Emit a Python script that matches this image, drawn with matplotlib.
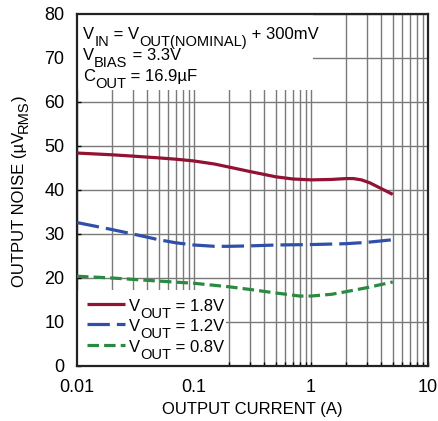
import matplotlib
matplotlib.use("Agg")
import matplotlib.pyplot as plt
from matplotlib.patches import Rectangle
from matplotlib.lines import Line2D
from matplotlib.transforms import IdentityTransform

FAM = 'Liberation Sans'
plt.rcParams['font.family'] = [FAM, 'DejaVu Sans']

# Data
x18 = [0.01, 0.02, 0.03, 0.05, 0.07, 0.1, 0.15, 0.2, 0.3, 0.5, 0.7, 1.0, 1.5, 2.0, 2.3, 2.7, 3.2, 4.0, 5.0]
y18 = [48.4, 48.0, 47.7, 47.3, 47.0, 46.6, 45.9, 45.2, 44.2, 43.0, 42.5, 42.3, 42.4, 42.6, 42.6, 42.3, 41.6, 40.3, 39.0]

x12 = [0.01, 0.02, 0.03, 0.05, 0.07, 0.1, 0.15, 0.2, 0.3, 0.5, 1.0, 2.0, 3.0, 5.0]
y12 = [32.6, 31.0, 30.0, 28.7, 28.0, 27.5, 27.2, 27.2, 27.3, 27.5, 27.6, 27.8, 28.1, 28.7]

x08 = [0.01, 0.02, 0.05, 0.1, 0.2, 0.3, 0.5, 0.8, 1.0, 1.5, 2.0, 3.0, 5.0]
y08 = [20.4, 20.0, 19.3, 18.8, 18.0, 17.4, 16.6, 15.9, 15.9, 16.3, 16.9, 17.8, 19.1]

legend_values = ["1.8V", "1.2V", "0.8V"]
xticks = [0.01, 0.1, 1, 10]
xticklabels = ["0.01", "0.1", "1", "10"]
yticks = [0, 10, 20, 30, 40, 50, 60, 70, 80]

W, H = 438, 421
fig = plt.figure(figsize=(W / 100, H / 100), dpi=100)
ax = fig.add_axes([77 / W, 1 - 366 / H, 351 / W, 352 / H])
ax.set_xscale('log')
ax.set_xlim(0.01, 10)
ax.set_ylim(0, 80)

ax.set_axisbelow(True)
ax.grid(True, which='major', color='#7a7a7a', lw=1.0)
ax.grid(True, which='minor', axis='x', color='#7a7a7a', lw=1.0)

ax.add_patch(Rectangle((0, 0.784), 0.672, 0.216, transform=ax.transAxes,
                       facecolor='white', edgecolor='none', zorder=1))
ax.add_patch(Rectangle((0, 0.0), 0.425, 0.216, transform=ax.transAxes,
                       facecolor='white', edgecolor='none', zorder=1))

c18, c12, c08 = '#921232', '#2f50a8', '#2b8a42'
LW = 2.3
st18 = dict(solid_capstyle='butt')
st12 = dict(dashes=(7, 2.2))
st08 = dict(dashes=(3.6, 1.6))
ax.plot(x18, y18, color=c18, lw=LW, zorder=3, **st18)
ax.plot(x12, y12, color=c12, lw=LW, zorder=3, **st12)
ax.plot(x08, y08, color=c08, lw=LW, zorder=3, **st08)

renderer = fig.canvas.get_renderer()
ID = IdentityTransform()

MAIN, SUB = 12.0, 10.5


def rich(x, y, pieces, size=MAIN, subsize=SUB, drop=7.0, rotate=False):
    """Draw text pieces at pixel position (x from left, y from top, baseline)."""
    pos = x if not rotate else (H - y)
    for txt, sub in pieces:
        fs = subsize if sub else size
        if not rotate:
            t = fig.text(pos, H - y - (drop if sub else 0), txt, transform=ID,
                         fontsize=fs, ha='left', va='baseline', zorder=5)
            pos = t.get_window_extent(renderer).x1
        else:
            t = fig.text(x + (drop if sub else 0), pos, txt, transform=ID,
                         fontsize=fs, ha='left', va='baseline', rotation=90,
                         rotation_mode='anchor', zorder=5)
            pos = t.get_window_extent(renderer).y1 - 1
    return pos


# annotation block
rich(83, 39, [("V", 0), ("IN", 1), (" = V", 0), ("OUT(NOMINAL)", 1), (" + 300mV", 0)])
rich(83, 60, [("V", 0), ("BIAS", 1), (" = 3.3V", 0)])
rich(83, 81, [("C", 0), ("OUT", 1), (" = 16.9µF", 0)])

# legend
leg_y = [311, 331, 352]
for val, col, yy, st in zip(legend_values, [c18, c12, c08], leg_y, [st18, st12, st08]):
    fig.add_artist(Line2D([87, 125], [H - yy + 7, H - yy + 7], transform=ID,
                          color=col, lw=LW, zorder=5, **st))
    rich(129, yy, [("V", 0), ("OUT", 1), (" = " + val, 0)])

ax.set_xticks(xticks)
ax.set_xticklabels(xticklabels)
ax.set_yticks(yticks)
ax.tick_params(axis='both', which='both', direction='in', labelsize=13, length=3, width=1)
ax.tick_params(axis='x', which='major', pad=9)
ax.tick_params(axis='y', which='major', pad=9)
for s in ax.spines.values():
    s.set_linewidth(1.6)
    s.set_color('#222222')

ax.set_xlabel("OUTPUT CURRENT (A)", fontsize=12, labelpad=5)

# y label composed with subscript
yl_parts = [("OUTPUT NOISE (µV", 0), ("RMS", 1), (")", 0)]
tmp = [fig.text(0, 0, p, fontsize=(SUB if s else MAIN)) for p, s in yl_parts]
total = sum(t.get_window_extent(renderer).width for t in tmp)
for t in tmp:
    t.remove()
centre = H - (15 + 366) / 2
rich(24, H - (centre - total / 2), yl_parts, rotate=True, drop=3.5)

fig.savefig("out.png", dpi=100)
